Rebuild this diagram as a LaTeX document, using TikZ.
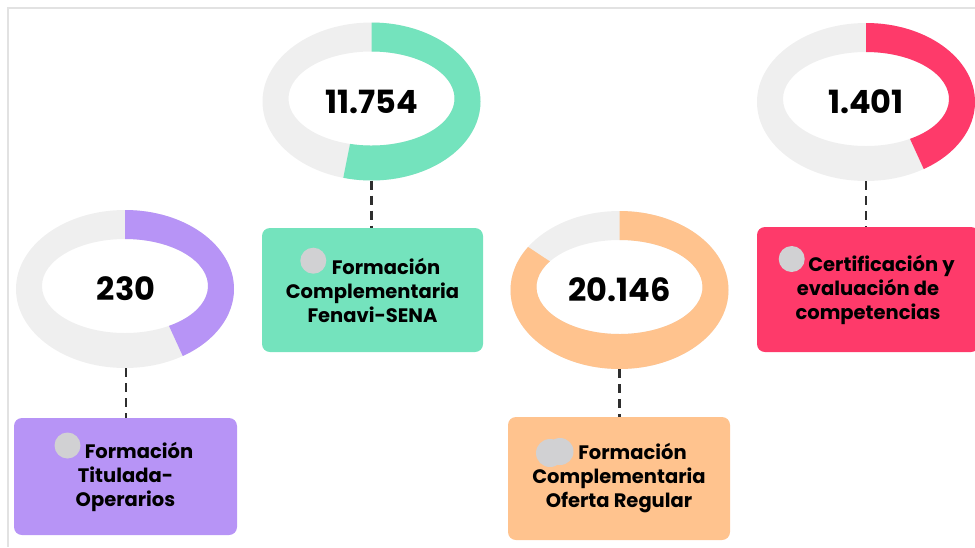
\documentclass[tikz,border=0pt]{standalone}
\usepackage{fontspec}
\setmainfont{Poppins}
\usetikzlibrary{shapes.geometric,calc}
\definecolor{ringgrey}{HTML}{EFEFEF}
\definecolor{cpurple}{HTML}{B794F6}
\definecolor{cgreen}{HTML}{74E3BD}
\definecolor{corange}{HTML}{FFC38E}
\definecolor{cred}{HTML}{FE3A6A}
\definecolor{dotgrey}{HTML}{D1D1D3}
\definecolor{framegrey}{HTML}{E2E2E2}
\definecolor{conngrey}{HTML}{2E2E2E}
\newcommand\donutring[4]{%
  \fill[ringgrey,even odd rule] (#1,#2) ellipse[x radius=109,y radius=79] (#1,#2+3) ellipse[x radius=83,y radius=47];
  \fill[#4] ($(#1,#2)+(90:109 and 79)$) arc[start angle=90,end angle=#3,x radius=109,y radius=79]
    -- ($(#1,#2+3)+(#3:83 and 47)$) arc[start angle=#3,end angle=90,x radius=83,y radius=47] -- cycle;
}
\begin{document}
\begin{tikzpicture}[x=1pt,y=1pt,
  donutn/.style={ellipse,minimum width=218pt,minimum height=158pt,inner sep=0pt,
    font=\fontsize{32}{34}\selectfont\bfseries},
  box/.style={rounded corners=8pt,inner sep=0pt,align=center,
    font=\fontsize{19.5}{24}\selectfont\bfseries},
  dot/.style={circle,fill=dotgrey,minimum size=26pt,inner sep=0pt},
  conn/.style={draw=conngrey,line width=2.3pt,dash pattern=on 9pt off 6pt}]
\useasboundingbox (0,0) rectangle (975,-547);
\draw[framegrey,line width=2pt] (8,-547) -- (8,-7.5) -- (975,-7.5);

% donuts
\donutring{125}{-289}{-58}{cpurple}
\donutring{371.5}{-101.5}{-105}{cgreen}
\donutring{619.5}{-290}{-213}{corange}
\donutring{866}{-102}{-58}{cred}

\node[donutn] (d1) at (126,-289) {230};
\node[donutn] (d2) at (371.5,-101.5) {11.754};
\node[donutn] (d3) at (619.5,-290) {20.146};
\node[donutn] (d4) at (866,-102) {1.401};

% boxes
\node[box,fill=cpurple,minimum width=223pt,minimum height=117pt] (b1) at (125.5,-476.5)
  {\hspace*{27pt}Formación\\Titulada-\\Operarios};
\node[box,fill=cgreen,minimum width=221pt,minimum height=124pt] (b2) at (372.5,-290)
  {\hspace*{27pt}Formación\\Complementaria\\Fenavi-SENA};
\node[box,fill=corange,minimum width=222pt,minimum height=123pt] (b3) at (619,-478.5)
  {\hspace*{27pt}Formación\\Complementaria\\Oferta Regular};
\node[box,fill=cred,minimum width=222pt,minimum height=125pt] (b4) at (868,-289.5)
  {\hspace*{27pt}Certificación y\\evaluación de\\competencias};

% grey dots
\node[dot] (k1) at (67.5,-445.5) {};
\node[dot] (k2) at (313.3,-260.7) {};
\node[dot,minimum size=28pt] (k3a) at (550,-453) {};
\node[dot,minimum size=27pt] (k3b) at (560,-451.5) {};
\node[dot] (k4) at (791.7,-259) {};

% connectors
\draw[conn] (d1.south) -- (d1.south |- b1.north);
\draw[conn] (d2.south) -- (d2.south |- b2.north);
\draw[conn] (d3.south) -- (d3.south |- b3.north);
\draw[conn] (d4.south) -- (d4.south |- b4.north);
\end{tikzpicture}
\end{document}
